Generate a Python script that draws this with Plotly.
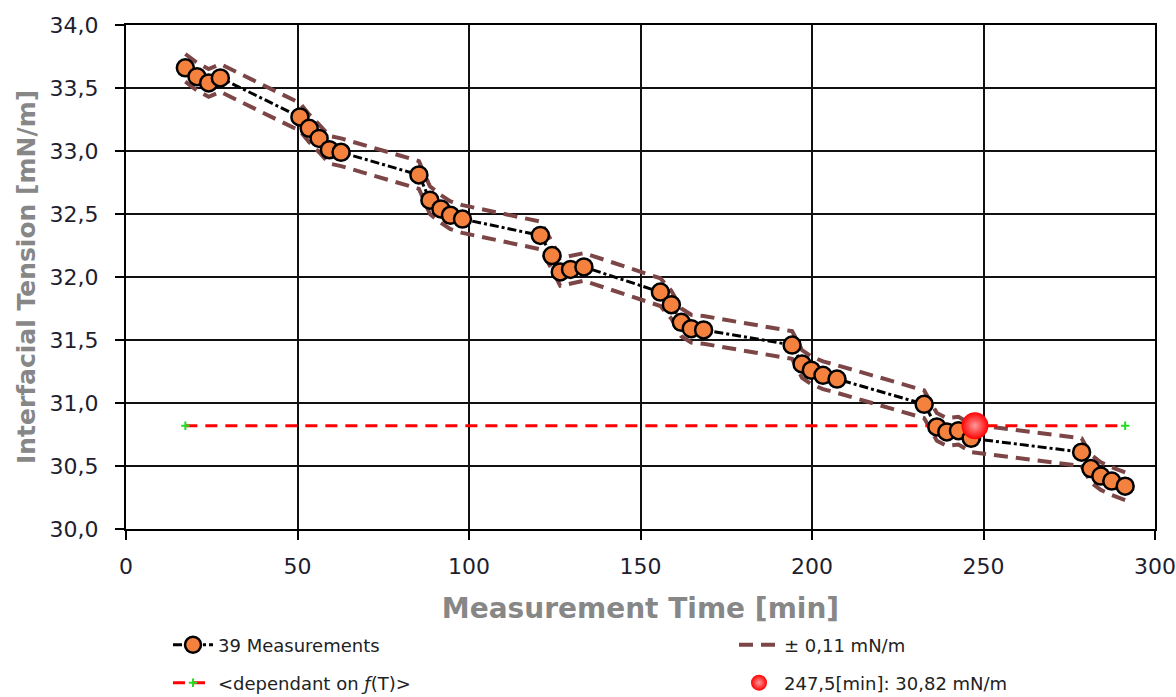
import plotly.graph_objects as go

time_min = [17.3, 20.7, 24.1, 27.5,
            50.7, 53.4, 56.3, 59.3, 62.7,
            85.4, 88.6, 91.8, 94.6, 98.1,
            120.8, 124.2, 126.6, 129.6, 133.5,
            155.8, 159.0, 161.9, 164.8, 168.4,
            194.2, 197.1, 199.8, 203.2, 207.3,
            232.7, 236.4, 239.3, 242.7, 246.4,
            278.6, 281.3, 284.2, 287.4, 291.3]
tension = [33.66, 33.59, 33.54, 33.58,
           33.27, 33.18, 33.10, 33.01, 32.99,
           32.81, 32.61, 32.54, 32.49, 32.46,
           32.33, 32.17, 32.04, 32.06, 32.08,
           31.88, 31.78, 31.64, 31.59, 31.58,
           31.46, 31.31, 31.26, 31.22, 31.19,
           30.99, 30.81, 30.77, 30.78, 30.72,
           30.61, 30.48, 30.42, 30.38, 30.34]
tolerance = 0.11
ref_value = 30.82
point_time = 247.5
point_value = 30.82
x_ticks = [0, 50, 100, 150, 200, 250, 300]
y_ticks = [30.0, 30.5, 31.0, 31.5, 32.0, 32.5, 33.0, 33.5, 34.0]

upper = [v + tolerance for v in tension]
lower = [v - tolerance for v in tension]
ref_x = [time_min[0], time_min[-1]]
ref_y = [ref_value, ref_value]

BROWN = "#7D4646"
ORANGE = "#F4823E"
FONT = "DejaVu Sans"

fig = go.Figure()

fig.add_trace(go.Scatter(
    x=time_min, y=upper, mode="lines", name="± 0,11 mN/m",
    line=dict(color=BROWN, width=4, dash="14px,8px"),
    legend="legend2", hoverinfo="skip"))
fig.add_trace(go.Scatter(
    x=time_min, y=lower, mode="lines", name="± 0,11 mN/m",
    line=dict(color=BROWN, width=4, dash="14px,8px"),
    showlegend=False, hoverinfo="skip"))

fig.add_trace(go.Scatter(
    x=ref_x, y=ref_y, mode="lines+markers", name="&lt;dependant on <i>ƒ</i>(T)&gt;",
    line=dict(color="#FF0000", width=3, dash="12px,8px"),
    marker=dict(symbol="cross-thin", size=6, color="#22DD22",
                line=dict(color="#22DD22", width=2)),
    legend="legend3"))

fig.add_trace(go.Scatter(
    x=time_min, y=tension, mode="lines+markers", name="39 Measurements",
    line=dict(color="black", width=3, dash="dashdot"),
    marker=dict(symbol="circle", size=17, color=ORANGE,
                line=dict(color="black", width=2.5)),
    legend="legend"))

fig.add_trace(go.Scatter(
    x=[point_time], y=[point_value], mode="markers",
    name="247,5[min]: 30,82 mN/m",
    marker=dict(symbol="circle", size=27, color="#FF0000",
                gradient=dict(type="radial", color="#FF9A9A"),
                line=dict(width=0)),
    legend="legend4"))

def leg(xpx, ypx):
    return dict(orientation="h", xref="container", yref="container",
                x=xpx / 1176, y=1 - ypx / 697, xanchor="left", yanchor="middle",
                font=dict(size=18, family=FONT, color="#222222"),
                bgcolor="rgba(0,0,0,0)", itemwidth=40)

fig.update_layout(
    width=1176, height=697,
    margin=dict(l=126, r=21, t=25, b=168),
    paper_bgcolor="white", plot_bgcolor="white",
    separators=", ",
    font=dict(family=FONT, color="#222222"),
    xaxis=dict(
        range=[0, 300], tickvals=x_ticks, ticks="outside", ticklen=9,
        tickwidth=2, tickcolor="black", ticklabelstandoff=8, automargin=False,
        showgrid=True, gridcolor="#111111", gridwidth=2,
        showline=True, linecolor="black", linewidth=2, mirror=True,
        zeroline=False, tickfont=dict(size=22, family=FONT, color="#1E1E2E"),
        title=dict(text="<b>Measurement Time [min]</b>", standoff=20,
                   font=dict(size=28, family=FONT, color="#878787"))),
    yaxis=dict(
        range=[30, 34], tickvals=y_ticks, tickformat=".1f", ticks="outside",
        ticklen=9, tickwidth=2, tickcolor="black", ticklabelstandoff=12,
        showgrid=True, gridcolor="#111111", gridwidth=2,
        showline=True, linecolor="black", linewidth=2, mirror=True,
        zeroline=False, tickfont=dict(size=22, family=FONT, color="#1E1E2E"),
        title=dict(text="<b>Interfacial Tension [mN/m]</b>", standoff=7,
                   font=dict(size=25, family=FONT, color="#878787"))),
    legend=leg(168, 645),
    legend2=leg(734, 645),
    legend3=leg(168, 683),
    legend4=leg(734, 683),
)

fig.write_html("out.html", config={"displayModeBar": False},
               post_script="document.body.style.margin='0';document.body.style.overflow='hidden';")
